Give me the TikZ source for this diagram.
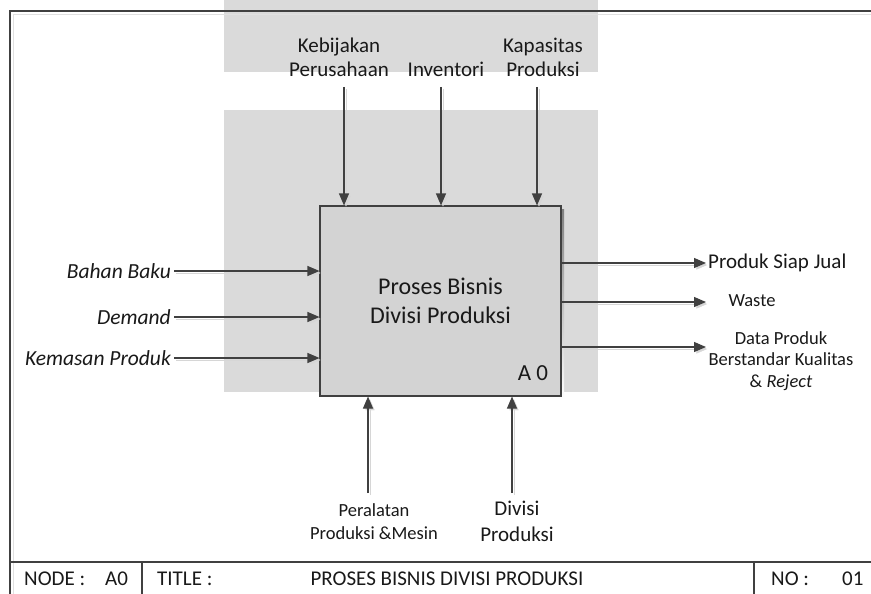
\documentclass[tikz,border=0pt]{standalone}
\usepackage{fontspec}
\setmainfont{Carlito}
\usetikzlibrary{arrows.meta}
\definecolor{ink}{HTML}{404040}
\definecolor{wm}{HTML}{DADADA}
\definecolor{boxfill}{HTML}{D3D3D3}
\definecolor{shade}{HTML}{C4C4C4}
\begin{document}
\begin{tikzpicture}[x=1pt,y=-1pt,
  flow/.style={draw=ink, line width=1.1pt, -{Triangle[length=12pt,width=10pt]},
    preaction={draw=black!16, transform canvas={shift={(2pt,-2pt)}}}},
  framel/.style={draw=ink, line width=1.3pt},
  outerframe/.style={framel, preaction={draw=black!12, transform canvas={shift={(3pt,-3pt)}}}},
  lbl/.style={font=\fontsize{21}{24}\selectfont, text=black!90, inner sep=1pt, align=center},
  lbli/.style={lbl, font=\fontsize{21.5}{24}\selectfont\itshape},
  lbls/.style={lbl, font=\fontsize{18.5}{22}\selectfont},
  foot/.style={font=\fontsize{21}{24}\selectfont, text=black!90, inner sep=0pt, anchor=west},
  procbox/.style={draw=ink, line width=1.1pt, fill=boxfill, minimum width=241pt, minimum height=190pt,
    inner sep=0pt, font=\fontsize{24}{29}\selectfont, align=center, text=black!90}]
\useasboundingbox (0,0) rectangle (871,594);
\fill[white] (0,0) rectangle (871,594);

% background grey panels
\fill[wm] (224,0) rectangle (598,72);
\fill[wm] (224,110) rectangle (598,392);

% sheet frame
\draw[outerframe] (871,11) -- (10,11) -- (10,594);
\draw[framel] (10,562) -- (871,562);
\draw[framel] (142,562) -- (142,594);
\draw[framel] (754,562) -- (754,594);

% activity box with its drop shadow
\fill[shade] (323,209) rectangle (564,399);
\node[procbox] (box) at (440.5,301) {Proses Bisnis\\Divisi Produksi};
\node[lbl, font=\fontsize{23}{26}\selectfont] (a0) at (533,373) {A 0};

% controls (top)
\node[lbl] (kb) at (339,57) {Kebijakan\\Perusahaan};
\node[lbl] (inv) at (446,69) {Inventori};
\node[lbl] (kp) at (543,57.5) {Kapasitas\\Produksi};
\coordinate (t1) at (344,87);
\coordinate (t2) at (441,87);
\coordinate (t3) at (537,87);
\draw[flow] (t1) -- (t1 |- box.north);
\draw[flow] (t2) -- (t2 |- box.north);
\draw[flow] (t3) -- (t3 |- box.north);

% inputs (left)
\node[lbli, anchor=east] (in1) at (172,271) {Bahan Baku};
\node[lbli, anchor=east] (in2) at (172,317) {Demand};
\node[lbli, anchor=east] (in3) at (172,358) {Kemasan Produk};
\draw[flow] ([xshift=2pt]in1.east) -- (in1.east -| box.west);
\draw[flow] ([xshift=2pt]in2.east) -- (in2.east -| box.west);
\draw[flow] ([xshift=2pt]in3.east) -- (in3.east -| box.west);

% outputs (right)
\coordinate (o1) at (706,263);
\coordinate (o2) at (706,302);
\coordinate (o3) at (706,347);
\draw[flow] (box.east |- o1) -- (o1);
\draw[flow] (box.east |- o2) -- (o2);
\draw[flow] (box.east |- o3) -- (o3);
\node[lbl, anchor=west] (out1) at (707,263) {Produk Siap Jual};
\node[lbls] (out2) at (752,301) {Waste};
\node[lbls, font=\fontsize{18.5}{21.5}\selectfont] (out3) at (781,361) {Data Produk\\Berstandar Kualitas\\\& \textit{Reject}};

% mechanisms (bottom)
\coordinate (b1) at (368,493);
\coordinate (b2) at (512,493);
\draw[flow] (b1) -- (b1 |- box.south);
\draw[flow] (b2) -- (b2 |- box.south);
\node[lbls, font=\fontsize{18.5}{23}\selectfont] (m1) at (374,522) {Peralatan\\Produksi \&Mesin};
\node[lbl, font=\fontsize{21}{26}\selectfont] (m2) at (517,521) {Divisi\\Produksi};

% title block
\node[foot] (nd) at (24,579) {NODE :};
\node[foot] (ndv) at (105,579) {A0};
\node[foot] (tt) at (157,579) {TITLE :};
\node[foot, anchor=center] (ttv) at (447,579) {PROSES BISNIS DIVISI PRODUKSI};
\node[foot] (no) at (771,579) {NO :};
\node[foot] (nov) at (842,579) {01};
\end{tikzpicture}
\end{document}
